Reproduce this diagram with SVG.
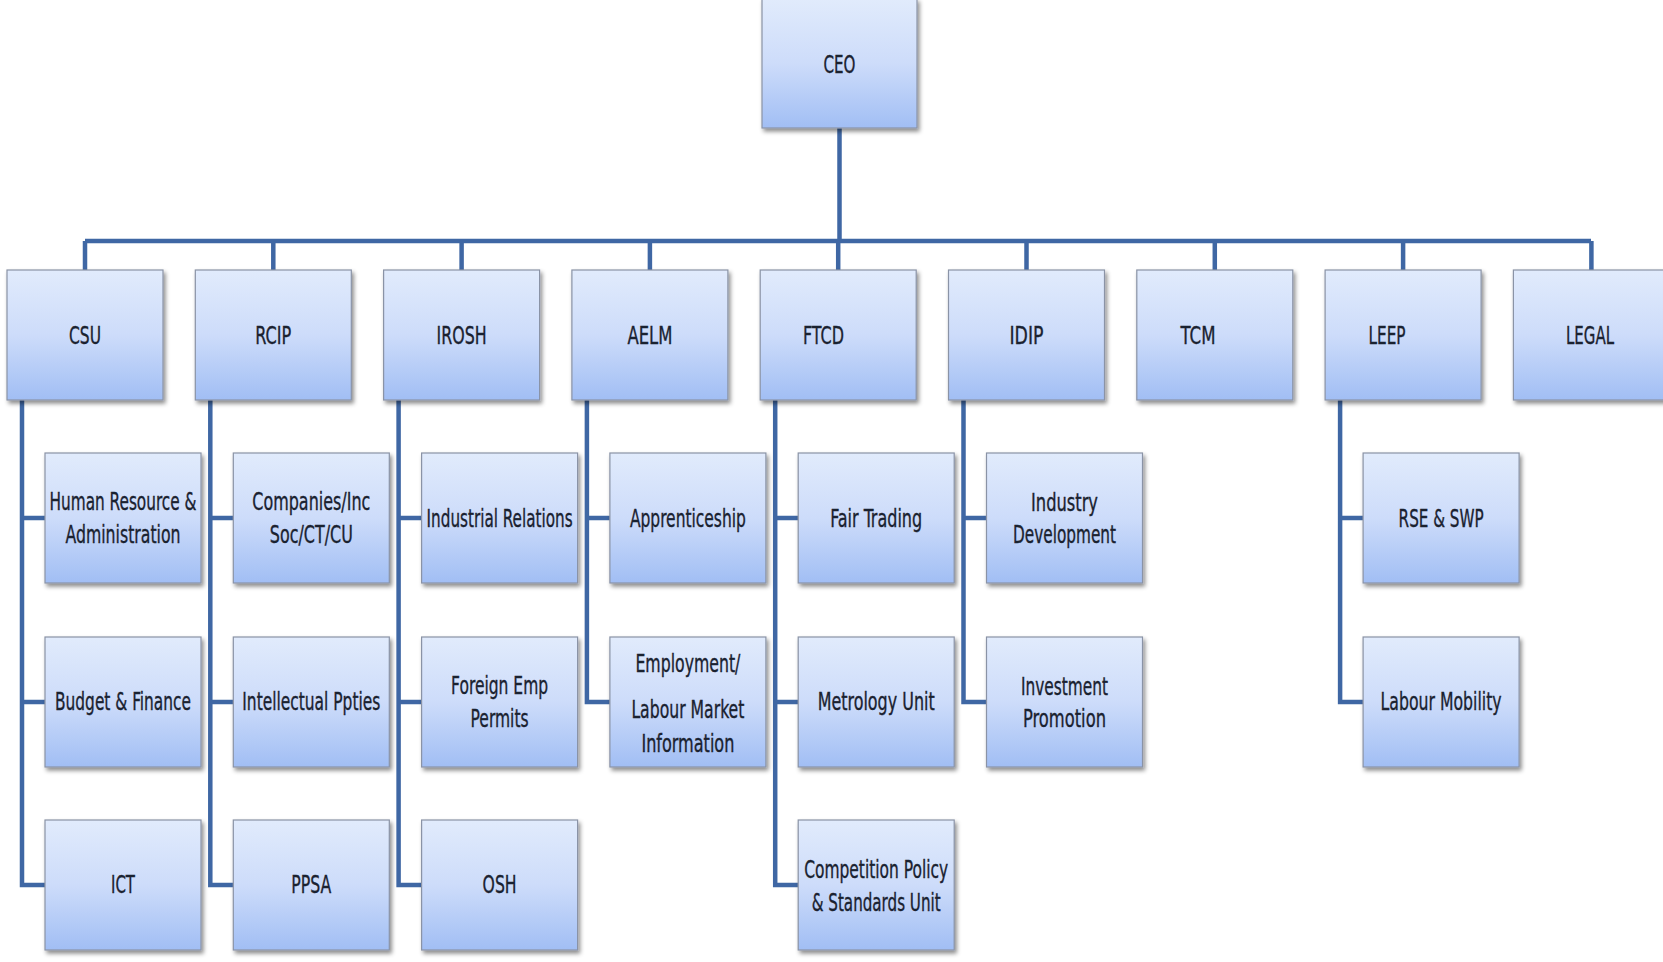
<svg xmlns="http://www.w3.org/2000/svg" width="1663" height="962" viewBox="0 0 1663 962">
<defs>
<linearGradient id="g" x1="0" y1="0" x2="0" y2="1">
<stop offset="0" stop-color="#e1ebfc"/>
<stop offset="0.5" stop-color="#cddcfa"/>
<stop offset="1" stop-color="#a1bef4"/>
</linearGradient>
<filter id="sh" x="-10%" y="-10%" width="125%" height="130%">
<feDropShadow dx="2" dy="3" stdDeviation="2" flood-color="#000" flood-opacity="0.45"/>
</filter>
<style>
.b{fill:url(#g);stroke:#8a93a6;stroke-width:1.2;filter:url(#sh)}
.t{font-family:"Liberation Sans Narrow","DejaVu Sans Condensed","Liberation Sans",sans-serif;font-size:25px;fill:#1a2230;stroke:#1a2230;stroke-width:0.35;text-anchor:middle}
.c{fill:none;stroke:#3f67a4;stroke-width:4.5;stroke-linejoin:miter}
</style>
</defs>
<rect width="1663" height="962" fill="#fff"/>
<g id="connectors">
<path class="c" d="M839.5 128V241M85 241H1591M85 241V270M273.3 241V270M461.6 241V270M649.9 241V270M838.2 241V270M1026.5 241V270M1214.8 241V270M1403.1 241V270M1591.4 241V270"/>
<path class="c" d="M22 400V885H45M22 518H45M22 702H45"/>
<path class="c" d="M210.3 400V885H233.3M210.3 518H233.3M210.3 702H233.3"/>
<path class="c" d="M398.6 400V885H421.6M398.6 518H421.6M398.6 702H421.6"/>
<path class="c" d="M586.9 400V702H609.9M586.9 518H609.9"/>
<path class="c" d="M775.2 400V885H798.2M775.2 518H798.2M775.2 702H798.2"/>
<path class="c" d="M963.5 400V702H986.5M963.5 518H986.5"/>
<path class="c" d="M1340.1 400V702H1363.1M1340.1 518H1363.1"/>
</g>
<g id="ceo"><rect class="b" x="762" y="-1" width="155" height="129"/><text class="t" x="839.5" y="73" textLength="32" lengthAdjust="spacingAndGlyphs">CEO</text></g>
<g id="csu"><rect class="b" x="7" y="270" width="156" height="130"/><text class="t" x="85" y="344" textLength="32" lengthAdjust="spacingAndGlyphs">CSU</text></g>
<g id="rcip"><rect class="b" x="195.3" y="270" width="156" height="130"/><text class="t" x="273.3" y="344" textLength="36" lengthAdjust="spacingAndGlyphs">RCIP</text></g>
<g id="irosh"><rect class="b" x="383.6" y="270" width="156" height="130"/><text class="t" x="461.6" y="344" textLength="50" lengthAdjust="spacingAndGlyphs">IROSH</text></g>
<g id="aelm"><rect class="b" x="571.9" y="270" width="156" height="130"/><text class="t" x="649.9" y="344" textLength="45" lengthAdjust="spacingAndGlyphs">AELM</text></g>
<g id="ftcd"><rect class="b" x="760.2" y="270" width="156" height="130"/><text class="t" x="823.5" y="344" textLength="41" lengthAdjust="spacingAndGlyphs">FTCD</text></g>
<g id="idip"><rect class="b" x="948.5" y="270" width="156" height="130"/><text class="t" x="1026.5" y="344" textLength="34" lengthAdjust="spacingAndGlyphs">IDIP</text></g>
<g id="tcm"><rect class="b" x="1136.8" y="270" width="156" height="130"/><text class="t" x="1198" y="344" textLength="35" lengthAdjust="spacingAndGlyphs">TCM</text></g>
<g id="leep"><rect class="b" x="1325.1" y="270" width="156" height="130"/><text class="t" x="1387" y="344" textLength="37" lengthAdjust="spacingAndGlyphs">LEEP</text></g>
<g id="legal"><rect class="b" x="1513.4" y="270" width="156" height="130"/><text class="t" x="1590" y="344" textLength="48" lengthAdjust="spacingAndGlyphs">LEGAL</text></g>

<g id="hr"><rect class="b" x="45" y="453" width="156" height="130"/><text class="t" x="123" y="510" textLength="147" lengthAdjust="spacingAndGlyphs">Human Resource &amp;</text><text class="t" x="123" y="543" textLength="115" lengthAdjust="spacingAndGlyphs">Administration</text></g>
<g id="budget"><rect class="b" x="45" y="637" width="156" height="130"/><text class="t" x="123" y="710" textLength="136" lengthAdjust="spacingAndGlyphs">Budget &amp; Finance</text></g>
<g id="ict"><rect class="b" x="45" y="820" width="156" height="130"/><text class="t" x="123" y="893" textLength="24" lengthAdjust="spacingAndGlyphs">ICT</text></g>

<g id="companies"><rect class="b" x="233.3" y="453" width="156" height="130"/><text class="t" x="311.3" y="510" textLength="118" lengthAdjust="spacingAndGlyphs">Companies/Inc</text><text class="t" x="311.3" y="543" textLength="83" lengthAdjust="spacingAndGlyphs">Soc/CT/CU</text></g>
<g id="ip"><rect class="b" x="233.3" y="637" width="156" height="130"/><text class="t" x="311.3" y="710" textLength="138" lengthAdjust="spacingAndGlyphs">Intellectual Ppties</text></g>
<g id="ppsa"><rect class="b" x="233.3" y="820" width="156" height="130"/><text class="t" x="311.3" y="893" textLength="40" lengthAdjust="spacingAndGlyphs">PPSA</text></g>

<g id="ir"><rect class="b" x="421.6" y="453" width="156" height="130"/><text class="t" x="499.6" y="527" textLength="146" lengthAdjust="spacingAndGlyphs">Industrial Relations</text></g>
<g id="fep"><rect class="b" x="421.6" y="637" width="156" height="130"/><text class="t" x="499.6" y="694" textLength="97" lengthAdjust="spacingAndGlyphs">Foreign Emp</text><text class="t" x="499.6" y="727" textLength="58" lengthAdjust="spacingAndGlyphs">Permits</text></g>
<g id="osh"><rect class="b" x="421.6" y="820" width="156" height="130"/><text class="t" x="499.6" y="893" textLength="34" lengthAdjust="spacingAndGlyphs">OSH</text></g>

<g id="app"><rect class="b" x="609.9" y="453" width="156" height="130"/><text class="t" x="687.9" y="527" textLength="116" lengthAdjust="spacingAndGlyphs">Apprenticeship</text></g>
<g id="lmi"><rect class="b" x="609.9" y="637" width="156" height="130"/><text class="t" x="687.9" y="672" textLength="105" lengthAdjust="spacingAndGlyphs">Employment/</text><text class="t" x="687.9" y="718" textLength="113" lengthAdjust="spacingAndGlyphs">Labour Market</text><text class="t" x="687.9" y="752" textLength="93" lengthAdjust="spacingAndGlyphs">Information</text></g>

<g id="fair"><rect class="b" x="798.2" y="453" width="156" height="130"/><text class="t" x="876.2" y="527" textLength="92" lengthAdjust="spacingAndGlyphs">Fair Trading</text></g>
<g id="metro"><rect class="b" x="798.2" y="637" width="156" height="130"/><text class="t" x="876.2" y="710" textLength="117" lengthAdjust="spacingAndGlyphs">Metrology Unit</text></g>
<g id="comp"><rect class="b" x="798.2" y="820" width="156" height="130"/><text class="t" x="876.2" y="878" textLength="144" lengthAdjust="spacingAndGlyphs">Competition Policy</text><text class="t" x="876.2" y="911" textLength="129" lengthAdjust="spacingAndGlyphs">&amp; Standards Unit</text></g>

<g id="ind"><rect class="b" x="986.5" y="453" width="156" height="130"/><text class="t" x="1064.5" y="511" textLength="67" lengthAdjust="spacingAndGlyphs">Industry</text><text class="t" x="1064.5" y="543" textLength="103" lengthAdjust="spacingAndGlyphs">Development</text></g>
<g id="inv"><rect class="b" x="986.5" y="637" width="156" height="130"/><text class="t" x="1064.5" y="695" textLength="87" lengthAdjust="spacingAndGlyphs">Investment</text><text class="t" x="1064.5" y="727" textLength="83" lengthAdjust="spacingAndGlyphs">Promotion</text></g>

<g id="rse"><rect class="b" x="1363.1" y="453" width="156" height="130"/><text class="t" x="1441.1" y="527" textLength="85" lengthAdjust="spacingAndGlyphs">RSE &amp; SWP</text></g>
<g id="lm"><rect class="b" x="1363.1" y="637" width="156" height="130"/><text class="t" x="1441.1" y="710" textLength="121" lengthAdjust="spacingAndGlyphs">Labour Mobility</text></g>
</svg>
